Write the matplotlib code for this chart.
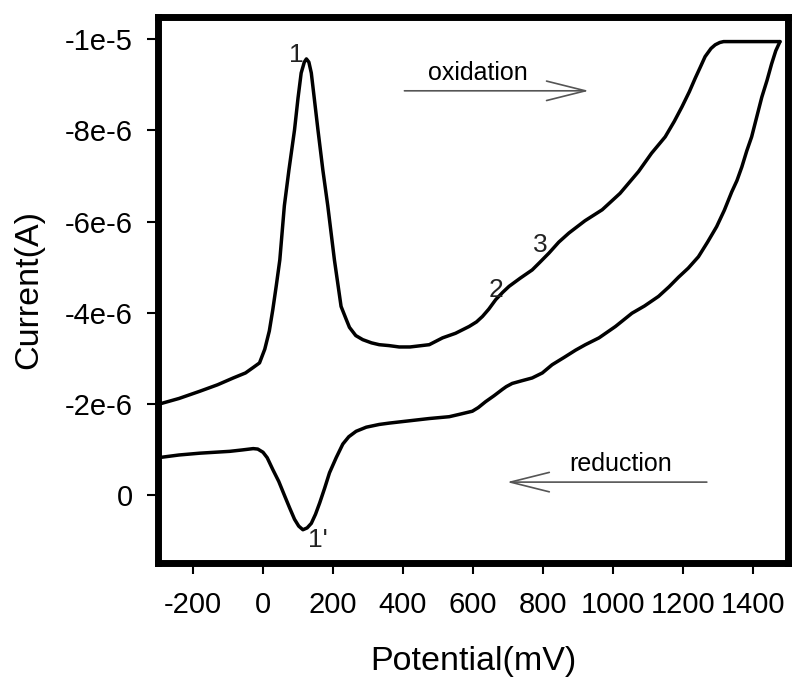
"""
Cyclic voltammogram: oxidation (forward) and reduction (reverse) scans.
"""
import matplotlib
matplotlib.use("Agg")
import matplotlib.pyplot as plt

plt.rcParams["font.family"] = ["Liberation Sans", "DejaVu Sans"]
plt.rcParams["axes.unicode_minus"] = False

# forward scan (oxidation), potential in mV, current in 1e-6 A
fwd_mv = [-300, -240, -180, -130, -85, -50, -28, -10, 5, 18, 28, 38, 48, 61,
          74, 90, 100, 109, 118, 124, 131, 138, 147, 157, 171, 185, 204, 223,
          238, 247, 265, 285, 310, 332, 360, 389, 420, 475, 513, 550, 589, 610,
          627, 645, 665, 685, 703, 735, 769, 790, 817, 845, 874, 920, 969,
          1020, 1073, 1110, 1149, 1175, 1197, 1218, 1235, 1250, 1263, 1280,
          1292, 1305, 1316, 1400, 1477]
fwd_ua = [-1.99, -2.12, -2.28, -2.42, -2.57, -2.68, -2.80, -2.90, -3.20, -3.60,
          -4.07, -4.60, -5.16, -6.35, -7.13, -8.01, -8.71, -9.26, -9.50, -9.57,
          -9.50, -9.26, -8.67, -8.01, -7.13, -6.35, -5.16, -4.14, -3.85, -3.68,
          -3.50, -3.41, -3.34, -3.30, -3.28, -3.25, -3.25, -3.30, -3.45, -3.55,
          -3.70, -3.80, -3.92, -4.08, -4.29, -4.45, -4.58, -4.76, -4.94, -5.10,
          -5.31, -5.55, -5.75, -6.02, -6.26, -6.62, -7.10, -7.50, -7.86, -8.20,
          -8.52, -8.85, -9.15, -9.40, -9.62, -9.80, -9.88, -9.93, -9.95, -9.95,
          -9.95]

# reverse scan (reduction)
rev_mv = [1477, 1465, 1453, 1440, 1425, 1410, 1396, 1382, 1368, 1354, 1339,
          1318, 1296, 1270, 1244, 1215, 1187, 1160, 1130, 1090, 1054, 1007,
          960, 921, 893, 860, 826, 798, 769, 740, 712, 695, 684, 660, 636, 615,
          598, 560, 532, 475, 418, 361, 332, 295, 266, 245, 228, 209, 190, 176,
          162, 150, 138, 126, 114, 102, 90, 76, 62, 45, 28, 12, 0, -15, -28,
          -60, -95, -180, -240, -300]
rev_ua = [-9.95, -9.75, -9.46, -9.10, -8.73, -8.28, -7.86, -7.55, -7.20, -6.90,
          -6.65, -6.25, -5.89, -5.55, -5.23, -4.98, -4.78, -4.57, -4.36, -4.15,
          -3.99, -3.70, -3.45, -3.30, -3.18, -3.02, -2.86, -2.68, -2.57, -2.51,
          -2.45, -2.38, -2.32, -2.18, -2.05, -1.92, -1.84, -1.77, -1.72, -1.68,
          -1.63, -1.58, -1.55, -1.49, -1.40, -1.28, -1.12, -0.82, -0.49, -0.15,
          0.17, 0.42, 0.62, 0.72, 0.76, 0.68, 0.53, 0.28, 0.02, -0.30, -0.56,
          -0.82, -0.94, -1.01, -1.02, -0.99, -0.96, -0.92, -0.88, -0.82]

x_ticks = [-200, 0, 200, 400, 600, 800, 1000, 1200, 1400]
y_ticks = [0, -2e-6, -4e-6, -6e-6, -8e-6, -1e-5]
y_tick_labels = ["0", "-2e-6", "-4e-6", "-6e-6", "-8e-6", "-1e-5"]

# peak labels: (text, potential mV, current A)
peak_labels = [("1", 95, -9.65e-6), ("1'", 156, 0.99e-6),
               ("2", 666, -4.51e-6), ("3", 791, -5.49e-6)]

fig = plt.figure(figsize=(7.92, 6.77), dpi=100)
ax = fig.add_axes([0.1995, 0.1677, 0.7955, 0.8079])

fwd = [v * 1e-6 for v in fwd_ua]
rev = [v * 1e-6 for v in rev_ua]
for xs, ys in [(fwd_mv, fwd), (rev_mv, rev)]:
    ax.plot(xs, ys, color="black", lw=2.5, solid_capstyle="round",
            solid_joinstyle="round")

ax.set_xlim(-300, 1500)
ax.set_ylim(1.5e-6, -1.05e-5)
ax.set_xticks(x_ticks)
ax.set_yticks(y_ticks)
ax.set_yticklabels(y_tick_labels)
ax.tick_params(direction="out", length=8, width=1.5, labelsize=21)
ax.tick_params(axis="x", pad=12)
ax.tick_params(axis="y", pad=10)

for sp in ax.spines.values():
    sp.set_linewidth(5)

ax.set_xlabel("Potential(mV)", fontsize=24.5, labelpad=19)
ax.set_ylabel("Current(A)", fontsize=24.5, labelpad=15)

for txt, xv, yv in peak_labels:
    ax.text(xv, yv, txt, fontsize=19, ha="center", va="center", color="#222222")

# scan direction arrows
arrow = dict(arrowstyle="->,head_length=1.4,head_width=0.35", color="#555555",
             lw=1.2, mutation_scale=20, shrinkA=0, shrinkB=0)
ax.annotate("", xy=(931, -8.87e-6), xytext=(404, -8.87e-6), arrowprops=arrow)
ax.annotate("", xy=(697, -0.285e-6), xytext=(1268, -0.285e-6), arrowprops=arrow)
ax.text(614, -9.25e-6, "oxidation", fontsize=18, ha="center", va="center")
ax.text(1022, -0.69e-6, "reduction", fontsize=18, ha="center", va="center")

fig.savefig("out.png", dpi=100)
